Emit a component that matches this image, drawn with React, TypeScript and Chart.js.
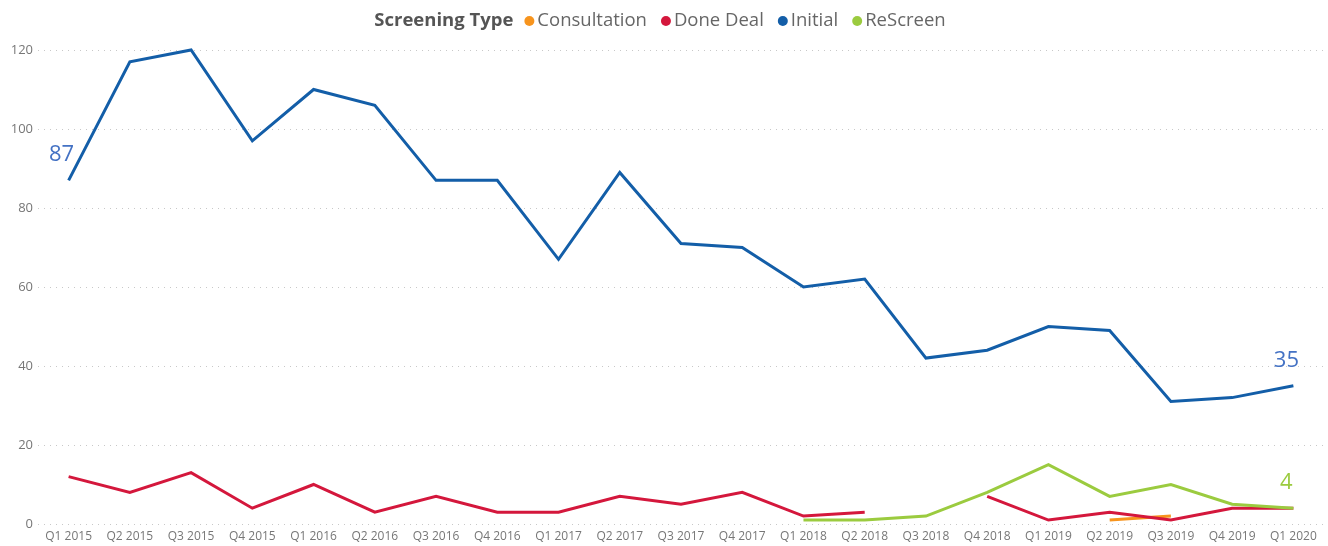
import { useEffect, useRef } from 'react';
import { Chart, registerables } from 'chart.js';

Chart.register(...registerables);

const categories = [
  'Q1 2015', 'Q2 2015', 'Q3 2015', 'Q4 2015',
  'Q1 2016', 'Q2 2016', 'Q3 2016', 'Q4 2016',
  'Q1 2017', 'Q2 2017', 'Q3 2017', 'Q4 2017',
  'Q1 2018', 'Q2 2018', 'Q3 2018', 'Q4 2018',
  'Q1 2019', 'Q2 2019', 'Q3 2019', 'Q4 2019',
  'Q1 2020',
];

const consultation = [
  null, null, null, null, null, null, null, null, null, null, null, null,
  null, null, null, null, null, 1, 2, null, null,
];
const doneDeal = [12, 8, 13, 4, 10, 3, 7, 3, 3, 7, 5, 8, 2, 3, null, 7, 1, 3, 1, 4, 4];
const initial = [87, 117, 120, 97, 110, 106, 87, 87, 67, 89, 71, 70, 60, 62, 42, 44, 50, 49, 31, 32, 35];
const reScreen = [
  null, null, null, null, null, null, null, null, null, null, null, null,
  1, 1, 2, 8, 15, 7, 10, 5, 4,
];

const yTicks = [0, 20, 40, 60, 80, 100, 120];

const legendTitle = 'Screening Type';
const seriesNames = ['Consultation', 'Done Deal', 'Initial', 'ReScreen'];
const seriesColors = ['#F7941D', '#D4173C', '#135EA8', '#9BCB3F'];
const labelColors = ['#F7941D', '#D4173C', '#4472C4', '#9BCB3F'];

const FONT = '"Open Sans", "Noto Sans", sans-serif';

export default function App() {
  const ref = useRef<HTMLCanvasElement | null>(null);

  useEffect(() => {
    document.body.style.margin = '0';
    const canvas = ref.current;
    if (!canvas) return;

    const legendPlugin = {
      id: 'customLegend',
      afterDraw(chart: any) {
        const ctx = chart.ctx;
        ctx.save();
        const cy = 21;
        ctx.textBaseline = 'middle';
        ctx.font = `bold 18.5px ${FONT}`;
        const titleW = ctx.measureText(legendTitle).width;
        ctx.font = `18.5px ${FONT}`;
        const itemWs = seriesNames.map((n) => ctx.measureText(n).width);
        const dotR = 5;
        const gapTitle = 11;
        const dotGap = 3;
        const itemGap = 14;
        let total = titleW + gapTitle;
        itemWs.forEach((w, i) => {
          total += dotR * 2 + dotGap + w + (i < itemWs.length - 1 ? itemGap : 0);
        });
        let x = 660 - total / 2;
        ctx.font = `bold 18.5px ${FONT}`;
        ctx.fillStyle = '#555555';
        ctx.textAlign = 'left';
        ctx.fillText(legendTitle, x, cy);
        x += titleW + gapTitle;
        ctx.font = `18.5px ${FONT}`;
        seriesNames.forEach((n, i) => {
          ctx.fillStyle = seriesColors[i];
          ctx.beginPath();
          ctx.arc(x + dotR, cy, dotR, 0, Math.PI * 2);
          ctx.fill();
          x += dotR * 2 + dotGap;
          ctx.fillStyle = '#666666';
          ctx.fillText(n, x, cy);
          x += itemWs[i] + itemGap;
        });
        ctx.restore();
      },
    };

    const dataLabelPlugin = {
      id: 'pointLabels',
      afterDatasetsDraw(chart: any) {
        const ctx = chart.ctx;
        ctx.save();
        ctx.font = `22px ${FONT}`;
        ctx.textAlign = 'center';
        ctx.textBaseline = 'alphabetic';
        const draw = (dsIndex: number, idx: number, color: string) => {
          const meta = chart.getDatasetMeta(dsIndex);
          const pt = meta.data[idx];
          const val = chart.data.datasets[dsIndex].data[idx];
          if (!pt || val == null) return;
          ctx.fillStyle = color;
          ctx.fillText(String(val), pt.x - 7, pt.y - 19);
        };
        draw(2, 0, labelColors[2]);
        draw(2, initial.length - 1, labelColors[2]);
        draw(3, reScreen.length - 1, labelColors[3]);
        ctx.restore();
      },
    };

    const mk = (label: string, data: any[], color: string, order: number) => ({
      label,
      data,
      borderColor: color,
      backgroundColor: color,
      borderWidth: 3,
      pointRadius: 0,
      pointHoverRadius: 0,
      tension: 0,
      spanGaps: false,
      clip: false as any,
      order,
      borderJoinStyle: 'miter' as const,
    });

    const chart = new Chart(canvas, {
      type: 'line',
      data: {
        labels: categories,
        datasets: [
          mk(seriesNames[0], consultation, seriesColors[0], 2),
          mk(seriesNames[1], doneDeal, seriesColors[1], 1),
          mk(seriesNames[2], initial, seriesColors[2], 3),
          mk(seriesNames[3], reScreen, seriesColors[3], 0),
        ],
      },
      options: {
        animation: false,
        responsive: true,
        maintainAspectRatio: false,
        layout: { padding: { top: 50, left: 0, right: 4, bottom: 0 } },
        plugins: {
          legend: { display: false },
          tooltip: { enabled: false },
        },
        scales: {
          x: {
            type: 'category',
            offset: true,
            grid: { display: false, drawTicks: false },
            border: { display: false },
            ticks: {
              autoSkip: false,
              maxRotation: 0,
              minRotation: 0,
              padding: 5,
              color: '#777777',
              font: { family: FONT, size: 12 },
            },
            afterFit(scale: any) {
              scale.height = 22;
            },
          },
          y: {
            min: 0,
            max: 120,
            afterBuildTicks(scale: any) {
              scale.ticks = yTicks.map((v) => ({ value: v }));
            },
            grid: { color: '#C8C8C8', lineWidth: 1, drawTicks: false },
            border: { display: false, dash: [1, 5] },
            ticks: {
              padding: 5,
              color: '#777777',
              font: { family: FONT, size: 13 },
            },
            afterFit(scale: any) {
              scale.width = 38;
            },
          },
        },
      },
      plugins: [legendPlugin, dataLabelPlugin],
    });

    return () => {
      chart.destroy();
    };
  }, []);

  return (
    <div style={{ position: 'relative', width: 1328, height: 546 }}>
      <canvas ref={ref} />
    </div>
  );
}
